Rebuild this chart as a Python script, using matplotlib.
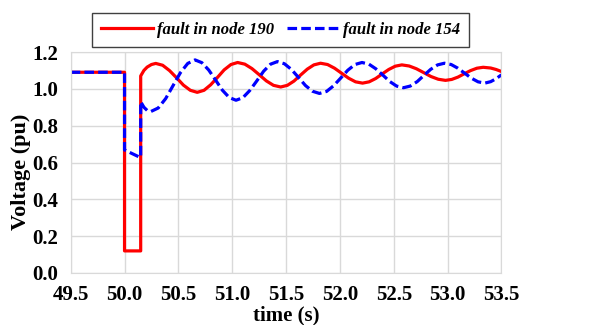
import matplotlib.pyplot as plt

# fault in node 190 (red, solid)
t_190 = [49.5, 50.0, 50.0, 50.15, 50.15, 50.18, 50.21, 50.25, 50.29,
         50.354, 50.418, 50.483, 50.547, 50.611, 50.675,
         50.738, 50.80, 50.863, 50.925, 50.988, 51.05,
         51.117, 51.183, 51.25, 51.317, 51.383, 51.45,
         51.512, 51.573, 51.635, 51.697, 51.758, 51.82,
         51.885, 51.95, 52.015, 52.08, 52.145, 52.21,
         52.271, 52.332, 52.393, 52.453, 52.514, 52.575,
         52.643, 52.71, 52.778, 52.845, 52.913, 52.98,
         53.038, 53.097, 53.155, 53.213, 53.272, 53.33,
         53.40, 53.45, 53.5]
v_190 = [1.09, 1.09, 0.12, 0.12, 1.07, 1.10, 1.118, 1.132, 1.138,
         1.128, 1.099, 1.060, 1.020, 0.992, 0.981,
         0.992, 1.022, 1.062, 1.103, 1.132, 1.143,
         1.134, 1.110, 1.077, 1.043, 1.019, 1.010,
         1.019, 1.042, 1.075, 1.107, 1.130, 1.139,
         1.132, 1.112, 1.085, 1.058, 1.038, 1.031,
         1.038, 1.056, 1.081, 1.105, 1.123, 1.130,
         1.124, 1.109, 1.088, 1.067, 1.052, 1.046,
         1.051, 1.064, 1.082, 1.099, 1.112, 1.117,
         1.113, 1.105, 1.094]

# fault in node 154 (blue, dashed)
t_154 = [49.5, 50.0, 50.0, 50.14, 50.15, 50.15, 50.18, 50.21, 50.245,
         50.313, 50.382, 50.45, 50.518, 50.587, 50.655,
         50.718, 50.782, 50.845, 50.908, 50.972, 51.035,
         51.099, 51.163, 51.228, 51.292, 51.356, 51.42,
         51.485, 51.55, 51.615, 51.68, 51.745, 51.81,
         51.876, 51.942, 52.008, 52.073, 52.139, 52.205,
         52.269, 52.333, 52.398, 52.462, 52.526, 52.59,
         52.653, 52.717, 52.78, 52.843, 52.907, 52.97,
         53.033, 53.095, 53.158, 53.22, 53.283, 53.345,
         53.40, 53.45, 53.5]
v_154 = [1.09, 1.09, 0.668, 0.629, 0.629, 0.93, 0.90, 0.883, 0.877,
         0.896, 0.947, 1.017, 1.087, 1.138, 1.157,
         1.142, 1.102, 1.048, 0.993, 0.953, 0.938,
         0.952, 0.991, 1.043, 1.096, 1.134, 1.148,
         1.136, 1.105, 1.062, 1.018, 0.987, 0.975,
         0.986, 1.017, 1.059, 1.101, 1.132, 1.143,
         1.134, 1.109, 1.075, 1.040, 1.015, 1.006,
         1.015, 1.039, 1.073, 1.106, 1.130, 1.139,
         1.132, 1.112, 1.085, 1.058, 1.038, 1.031,
         1.039, 1.055, 1.076]

xticks = [49.5, 50.0, 50.5, 51.0, 51.5, 52.0, 52.5, 53.0, 53.5]
yticks = [0.0, 0.2, 0.4, 0.6, 0.8, 1.0, 1.2]

plt.rcParams['font.family'] = 'Liberation Serif'

fig = plt.figure(figsize=(5.96, 3.25), dpi=100)
ax = fig.add_axes([0.1186, 0.16, 0.7228, 0.68])

ax.plot(t_190, v_190, color='#ff0000', lw=2.3, label='fault in node 190')
ax.plot(t_154, v_154, color='#0000ff', lw=2.3, ls=(0, (3.0, 1.3)), label='fault in node 154')

ax.set_xlim(49.5, 53.5)
ax.set_ylim(0, 1.2)
ax.set_xticks(xticks)
ax.set_yticks(yticks)
ax.set_xticklabels(['%.1f' % x for x in xticks], fontsize=15, fontweight='bold')
ax.set_yticklabels(['%.1f' % y for y in yticks], fontsize=15, fontweight='bold')
ax.tick_params(axis='x', length=0, pad=9)
ax.tick_params(axis='y', length=0, pad=9)
ax.grid(True, color='#d9d9d9', lw=1)
ax.set_axisbelow(True)
for s in ax.spines.values():
    s.set_color('#d9d9d9')

ax.set_xlabel('time (s)', fontsize=15, fontweight='bold', labelpad=0)
ax.set_ylabel('Voltage (pu)', fontsize=16, fontweight='bold')
ax.yaxis.set_label_coords(-0.092, 0.46)

font = {'style': 'italic', 'weight': 'bold', 'size': 12}
leg = fig.legend(loc='center', bbox_to_anchor=(0.4706, 0.9077), ncol=2, prop=font,
                 fancybox=False, edgecolor='#404040', framealpha=1,
                 handlelength=3.1, handletextpad=0.25, columnspacing=0.8,
                 borderpad=0.55)
leg.get_frame().set_linewidth(1.0)

plt.savefig('out.png', dpi=100)
